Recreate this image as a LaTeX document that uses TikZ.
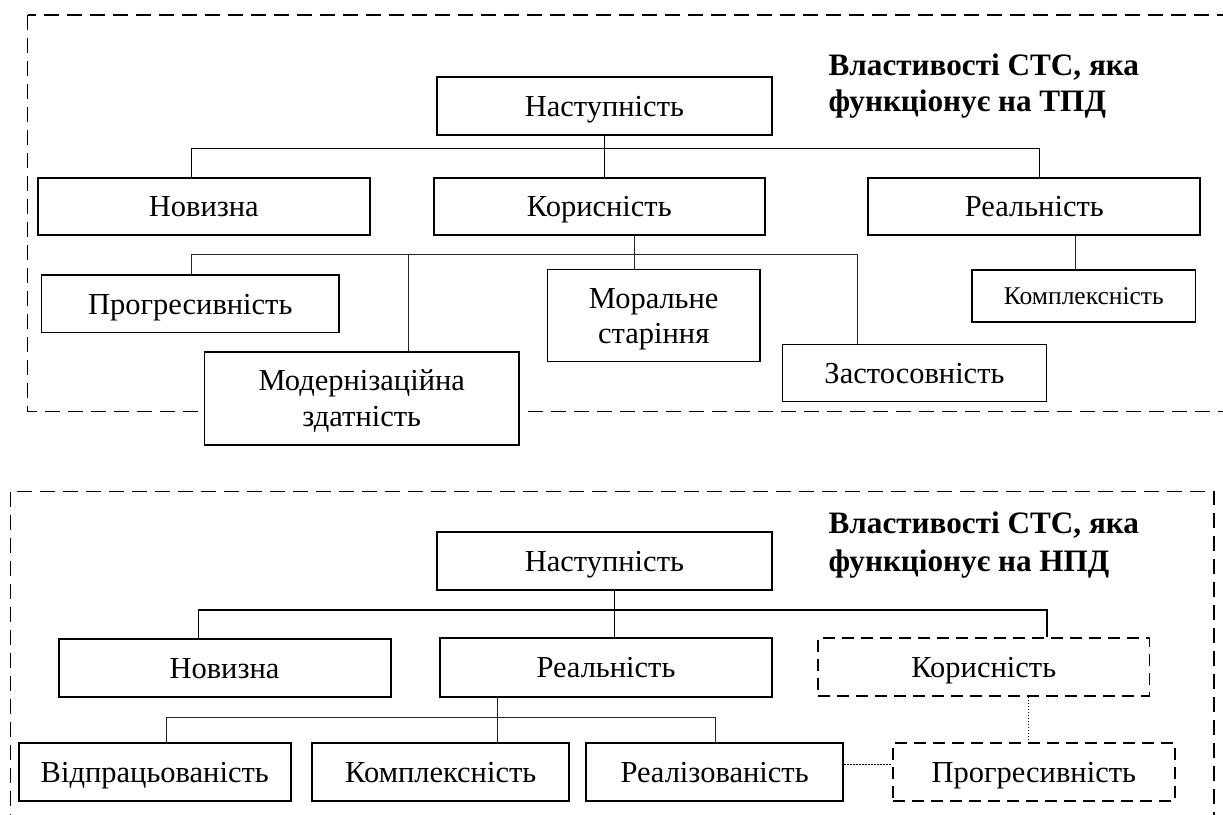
\documentclass[tikz,border=0pt]{standalone}
\usepackage{fontspec}
\setmainfont{Liberation Serif}
\newcommand{\twolines}[2]{\begin{tabular}[b]{@{}c@{}}#1\\#2\end{tabular}}
\begin{document}
\begin{tikzpicture}[x=1pt,y=-1pt,
  basebox/.style={draw,rectangle,inner sep=0pt,fill=white,font=\fontsize{30.5}{36}\selectfont,text height=20.7pt,text depth=0pt},
  thickbox/.style={basebox,line width=2pt},
  thinbox/.style={basebox,line width=1.5pt},
  twoline/.style={text height=56.7pt,text depth=0pt},
  dashbox/.style={basebox,line width=1.8pt,dash pattern=on 12pt off 7pt},
  frame/.style={line width=1.5pt,dash pattern=on 15pt off 8pt},
  bus/.style={line width=1.3pt},
  subbus/.style={line width=0.9pt,draw=black!85},
  dotline/.style={line width=1pt,dash pattern=on 1.5pt off 1.5pt},
  title/.style={anchor=base west,inner sep=0pt,font=\fontsize{31.2}{37}\selectfont\bfseries}
]
\useasboundingbox (0,0) rectangle (1223,814);

% frames
\draw[frame] (27.7,15) rectangle (1245,411.7);
\draw[frame] (10.7,491.7) rectangle (1213.8,840);

% ===== top diagram =====
\node[title] (t1a) at (828.4,75) {Властивості СТС, яка};
\node[title] (t1b) at (828.4,111.7) {функціонує на ТПД};

\node[thickbox,minimum width=335pt,minimum height=58pt] (n1) at (604.4,106.2) {Наступність};
\node[thickbox,minimum width=331.7pt,minimum height=57.3pt] (n2) at (203.8,206.3) {Новизна};
\node[thickbox,minimum width=331.3pt,minimum height=57.3pt] (n3) at (599.3,206.3) {Корисність};
\node[thickbox,minimum width=332pt,minimum height=57.3pt] (n4) at (1034.3,206.3) {Реальність};
\node[thinbox,minimum width=297.5pt,minimum height=57.3pt] (n5) at (190.3,303.7) {Прогресивність};
\node[thinbox,twoline,minimum width=314.7pt,minimum height=92.7pt] (n6) at (361.7,398.5) {\twolines{Модернізаційна}{здатність}};
\node[thinbox,twoline,minimum width=212.6pt,minimum height=92.4pt,font=\fontsize{30.5}{35}\selectfont,text height=55.7pt] (n7) at (653.7,315.5) {\twolines{Моральне}{старіння}};
\node[thinbox,minimum width=264.2pt,minimum height=57.4pt] (n8) at (914.5,373) {Застосовність};
\node[thinbox,minimum width=223.7pt,minimum height=52.4pt,font=\fontsize{25.5}{30}\selectfont,text height=17.6pt] (n9) at (1083.8,296) {Комплексність};

\coordinate (b1) at (0,148.3);
\coordinate (b2) at (0,254);
\draw[bus] (n1.south) -- (n1.south |- n3.north);
\draw[bus] ([xshift=-12.5pt]n2.north) -- ([xshift=-12.5pt]n2.north |- b1) -| ([xshift=5pt]n4.north);
\draw[subbus] ([xshift=35.3pt]n3.south) -- ([xshift=35.3pt]n3.south |- n7.north);
\draw[subbus] ([xshift=1pt]n5.north) -- ([xshift=1pt]n5.north |- b2) -| ([xshift=-57pt]n8.north);
\draw[subbus] ([xshift=46.6pt]n6.north) -- ([xshift=46.6pt]n6.north |- b2);
\draw[subbus] ([xshift=41pt]n4.south) -- ([xshift=41pt]n4.south |- n9.north);

% ===== bottom diagram =====
\node[title] (t2a) at (828.4,533.3) {Властивості СТС, яка};
\node[title] (t2b) at (828.4,571.7) {функціонує на НПД};

\node[thickbox,minimum width=335pt,minimum height=58.3pt] (m1) at (604.4,560.9) {Наступність};
\node[thickbox,minimum width=332pt,minimum height=57.7pt] (m2) at (224.5,667.8) {Новизна};
\node[thickbox,minimum width=332pt,minimum height=58.4pt] (m3) at (606,667.5) {Реальність};
\node[dashbox,minimum width=331.5pt,minimum height=57.4pt] (m4) at (983.75,667) {Корисність};
\node[thickbox,minimum width=271.5pt,minimum height=57.4pt] (m5) at (154.75,772) {Відпрацьованість};
\node[thickbox,minimum width=256.9pt,minimum height=57.4pt] (m6) at (440.75,772) {Комплексність};
\node[thickbox,minimum width=256.8pt,minimum height=57.4pt] (m7) at (714.6,772) {Реалізованість};
\node[dashbox,minimum width=282.1pt,minimum height=58pt] (m8) at (1033.85,771.7) {Прогресивність};

\coordinate (b3) at (0,610);
\coordinate (b4) at (0,717.7);
\draw[bus] ([xshift=10.2pt]m1.south) -- ([xshift=10.2pt]m1.south |- m3.north);
\draw[bus] ([xshift=-26pt]m2.north) -- ([xshift=-26pt]m2.north |- b3) -| ([xshift=63.25pt]m4.north);
\draw[subbus] ([xshift=-108.8pt]m3.south) -- ([xshift=-108.8pt]m3.south |- m6.north);
\draw[subbus] ([xshift=11.25pt]m5.north) -- ([xshift=11.25pt]m5.north |- b4) -| ([xshift=0.6pt]m7.north);
\draw[dotline] ([xshift=44.5pt]m4.south) -- ([xshift=44.5pt]m4.south |- m8.north);
\draw[dotline] ([yshift=7.7pt]m7.east) -- ([yshift=7.7pt]m7.east -| m8.west);
\end{tikzpicture}
\end{document}
